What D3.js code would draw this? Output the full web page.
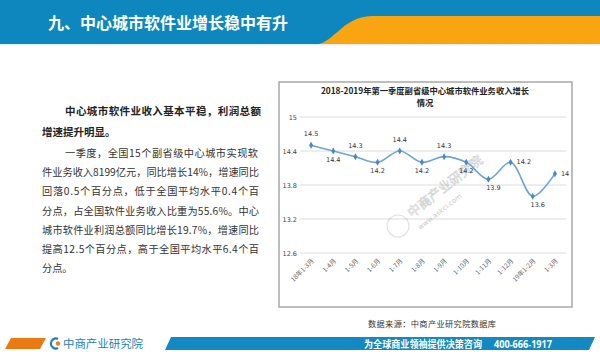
<!DOCTYPE html>
<html><head><meta charset="utf-8">
<script src="https://cdn.jsdelivr.net/npm/d3@7"></script>
<style>
html,body{margin:0;padding:0;background:#fff;}
svg{display:block;}
</style></head>
<body>
<script>
// ---- data ----
const categories = ["18年1-3月","1-4月","1-5月","1-6月","1-7月","1-8月","1-9月","1-10月","1-11月","1-12月","19年1-2月","1-3月"];
const growth = [14.5,14.4,14.3,14.2,14.4,14.2,14.3,14.2,13.9,14.2,13.6,14];
const labelPlacement = ["top","bottom","top","bottom","top","bottom","top","bottom","bottom","right","bottom","right"];
const yTicks = [15,14.4,13.8,13.2,12.6];
const pageTitle = "九、中心城市软件业增长稳中有升";
const chartTitle = ["2018-2019年第一季度副省级中心城市软件业务收入增长","情况"];
const heading = ["中心城市软件业收入基本平稳，利润总额","增速提升明显。"];
const body = ["一季度，全国15个副省级中心城市实现软","件业务收入8199亿元，同比增长14%，增速同比","回落0.5个百分点，低于全国平均水平0.4个百","分点，占全国软件业务收入比重为55.6%。中心","城市软件业利润总额同比增长19.7%，增速同比","提高12.5个百分点，高于全国平均水平6.4个百","分点。"];
const sourceText = "数据来源：中商产业研究院数据库";
const footerLogo = "中商产业研究院";
const footerSlogan = "为全球商业领袖提供决策咨询";
const footerPhone = "400-666-1917";

const W = 600, H = 356;
const svg = d3.select("body").append("svg").attr("width", W).attr("height", H);
const CJK = "'Noto Sans CJK SC','Noto Sans',sans-serif";

// ---- header ----
svg.append("rect").attr("x",0).attr("y",0).attr("width",W).attr("height",45).attr("fill","#0d87bd");
svg.append("path").attr("d","M312,45 C335,45 340,17 372,16 L600,16 L600,45 Z").attr("fill","#f8a511");
svg.append("rect").attr("x",0).attr("y",44).attr("width",W).attr("height",1.5).attr("fill","#e8eef2");
svg.append("text").attr("x",48).attr("y",29).attr("fill","#fff").attr("font-family",CJK)
  .attr("font-size",16).attr("font-weight","bold").text(pageTitle);

// ---- left text ----
const tg = svg.append("g").attr("font-family",CJK).attr("fill","#333");
heading.forEach((t,i)=>{
  const x0 = i===0?65:42;
  const txt = tg.append("text").attr("x",x0).attr("y",115+i*21).attr("font-size",10.5)
    .attr("font-weight","bold").attr("fill","#222").text(t);
  if(i===0) txt.attr("textLength",196).attr("lengthAdjust","spacing");
});
body.forEach((t,i)=>{
  const x0 = i===0?65:42;
  const txt = tg.append("text").attr("x",x0).attr("y",157+i*19.2).attr("font-size",10.2).text(t);
  if(i<body.length-1) txt.attr("textLength",(i===0?193:217)).attr("lengthAdjust","spacing");
});

// ---- chart box ----
svg.append("rect").attr("x",279).attr("y",82).attr("width",293).attr("height",225)
  .attr("fill","#fff").attr("stroke","#a9a9a9").attr("stroke-width",1.5);

const chartTitleG = svg.append("g").attr("font-family",CJK).attr("font-weight","bold").attr("font-size",8.3).attr("fill","#222").attr("text-anchor","middle");
chartTitle.forEach((t,i)=>chartTitleG.append("text").attr("x",425).attr("y",94+i*12).text(t));

const x = d3.scaleBand().domain(categories).range([300,566]);
const y = d3.scaleLinear().domain([12.6,15]).range([253,117]);

// gridlines
svg.append("g").selectAll("line").data(yTicks).join("line")
  .attr("x1",300).attr("x2",566).attr("y1",d=>y(d)).attr("y2",d=>y(d))
  .attr("stroke","#dcdcdc").attr("stroke-width",1);

// y axis
const yAxis = svg.append("g").attr("transform","translate(297,0)")
  .call(d3.axisLeft(y).tickValues(yTicks).tickSize(0).tickPadding(0).tickFormat(d=>String(d)));
yAxis.select(".domain").remove();
yAxis.selectAll("text").attr("font-size",6.5).attr("font-family","'DejaVu Sans',sans-serif").attr("fill","#444");

// x axis labels
const xAxis = svg.append("g").attr("transform","translate(0,256)")
  .call(d3.axisBottom(x).tickSize(0).tickPadding(0));
xAxis.select(".domain").remove();
xAxis.selectAll("text").attr("font-size",6.5).attr("font-family",CJK).attr("fill","#666")
  .attr("text-anchor","end").attr("dy","0.3em")
  .attr("transform","translate(2,4) rotate(-45)");

// watermark
const wm = svg.append("g").attr("opacity",0.28).attr("fill","none").attr("stroke","#999");
wm.append("circle").attr("cx",398).attr("cy",226).attr("r",11).attr("stroke-width",1.2);
svg.append("text").attr("x",412).attr("y",218).attr("transform","rotate(-38,412,218)")
  .attr("font-family",CJK).attr("font-size",13).attr("fill","none").attr("stroke","#aaa").attr("stroke-width",0.6)
  .attr("opacity",0.55).text("中商产业研究院");
svg.append("text").attr("x",420).attr("y",230).attr("transform","rotate(-38,420,230)")
  .attr("font-family","'DejaVu Sans',sans-serif").attr("font-size",7).attr("fill","#bbb")
  .attr("opacity",0.8).text("www.askci.com");

// line
const pts = categories.map((c,i)=>({c, v:growth[i], pos:labelPlacement[i]}));
const line = d3.line().x(d=>x(d.c)+x.bandwidth()/2).y(d=>y(d.v)).curve(d3.curveCatmullRom.alpha(0.5));
svg.append("path").datum(pts).attr("d",line).attr("fill","none").attr("stroke","#6aa5dc").attr("stroke-width",1.6);
svg.append("g").selectAll("path").data(pts).join("path")
  .attr("d",d3.symbol(d3.symbolDiamond,14))
  .attr("transform",d=>`translate(${x(d.c)+x.bandwidth()/2},${y(d.v)})`)
  .attr("fill","#4a88c8");

// data labels
svg.append("g").selectAll("text").data(pts).join("text")
  .attr("font-family","'DejaVu Sans',sans-serif").attr("font-size",6.5).attr("fill","#333")
  .attr("x",d=>x(d.c)+x.bandwidth()/2 + (d.pos==="right"?6:(d.pos==="bottom"&&d.v<14?5:0)))
  .attr("y",d=>y(d.v) + (d.pos==="top"?-9:d.pos==="bottom"?11:2))
  .attr("text-anchor",d=>d.pos==="right"?"start":"middle")
  .text(d=>String(d.v));

// source
svg.append("text").attr("x",368).attr("y",327).attr("font-family",CJK).attr("font-size",8.2)
  .attr("fill","#333").attr("textLength",128).attr("lengthAdjust","spacing").text(sourceText);

// ---- footer ----
svg.append("path").attr("d","M5,349 L11,338 L46,338 L40,349 Z").attr("fill","#ea7a12");
svg.append("path").attr("d","M58,339 A5,5 0 1 0 58,348").attr("fill","none").attr("stroke","#1b7fc1").attr("stroke-width",2.2);
svg.append("circle").attr("cx",58).attr("cy",343.5).attr("r",2.2).attr("fill","#ef7d15");
svg.append("text").attr("x",63).attr("y",348).attr("font-family",CJK).attr("font-size",11)
  .attr("fill","#1b7fc1").attr("textLength",80).attr("lengthAdjust","spacingAndGlyphs").text(footerLogo);
svg.append("path").attr("d","M165,350 L171,337 L595,337 L589,350 Z").attr("fill","#1389c4");
svg.append("text").attr("x",364).attr("y",347.5).attr("font-family",CJK).attr("font-size",10)
  .attr("font-weight","bold").attr("fill","#fff").attr("textLength",118).attr("lengthAdjust","spacingAndGlyphs").text(footerSlogan);
svg.append("text").attr("x",494).attr("y",347.5).attr("font-family","'Open Sans',sans-serif").attr("font-size",10.5)
  .attr("font-weight","bold").attr("fill","#fff").attr("textLength",58).attr("lengthAdjust","spacingAndGlyphs").text(footerPhone);
</script>
</body></html>
